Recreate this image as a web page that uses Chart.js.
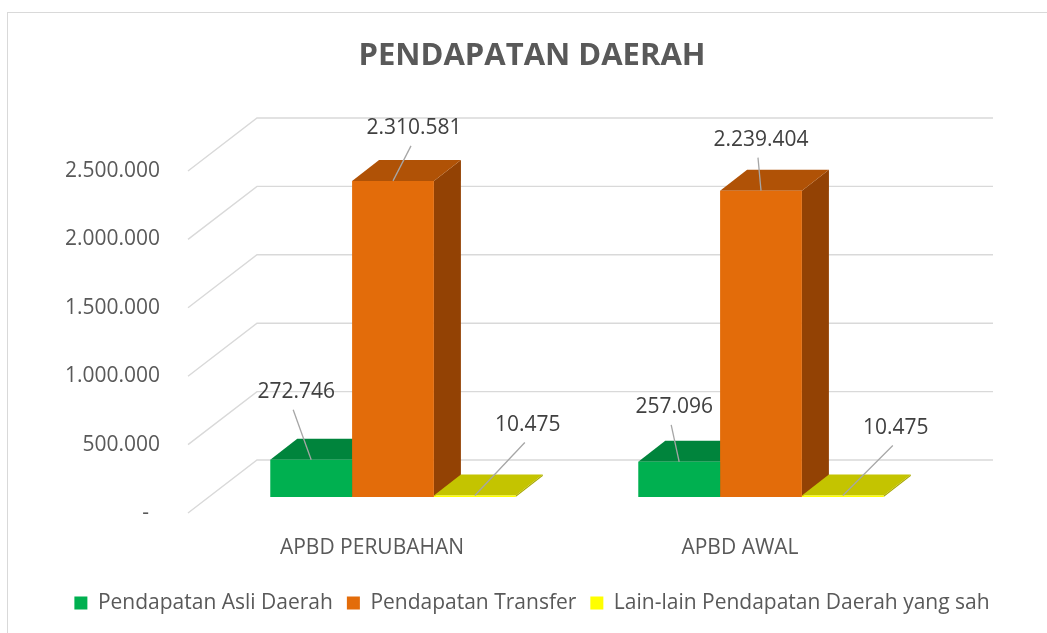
<!DOCTYPE html>
<html><head><meta charset="utf-8">
<script src="https://cdn.jsdelivr.net/npm/chart.js@4.4.0/dist/chart.umd.min.js"></script>
<style>
html,body{margin:0;padding:0;background:#fff;overflow:hidden}
#wrap{position:relative;width:1047px;height:633px;overflow:hidden}
#frame{position:absolute;left:7px;top:12px;width:1100px;height:700px;border:1.5px solid #d9d9d9;box-sizing:border-box}
canvas{position:absolute;left:0;top:0}
</style></head><body>
<div id="wrap"><div id="frame"></div><canvas id="c" width="1047" height="633"></canvas></div>
<script>
const categories = ['APBD PERUBAHAN', 'APBD AWAL'];
const seriesNames = ['Pendapatan Asli Daerah', 'Pendapatan Transfer', 'Lain-lain Pendapatan Daerah yang sah'];
const pendapatanAsliDaerah = [272746, 257096];
const pendapatanTransfer = [2310581, 2239404];
const lainLainPendapatan = [10475, 10475];
const yTicks = [0, 500000, 1000000, 1500000, 2000000, 2500000];

// styles
const frontColors = ['#00B050', '#E36C0A', '#FFFF00'];
const topColors = ['#00843C', '#B05206', '#C4C400'];
const sideColors = ['#006B30', '#934204', '#A8A800'];
const FRONT = {dx: 21, dy: -16};
const DEPTH = {dx: 27, dy: -21};
const WALL = {dx: 69, dy: -53};
const labelOffsets = [[[-15, -68], [-5, -55]], [[21, -53], [0, -51]], [[53, -71], [53, -68]]];
const FONT = 'Open Sans';

function fmt(v) {
  if (v === 0) return '-  ';
  return String(v).replace(/\B(?=(\d{3})+(?!\d))/g, '.');
}
function poly(ctx, pts) {
  ctx.beginPath();
  ctx.moveTo(pts[0][0], pts[0][1]);
  for (let k = 1; k < pts.length; k++) ctx.lineTo(pts[k][0], pts[k][1]);
  ctx.closePath();
  ctx.fill();
}

const threeD = {
  id: 'threeD',
  beforeDatasetsDraw(chart) {
    const {ctx, chartArea: a, scales: {y}} = chart;
    ctx.save();
    ctx.strokeStyle = '#D9D9D9';
    ctx.lineWidth = 1.4;
    yTicks.forEach(v => {
      const py = y.getPixelForValue(v);
      ctx.beginPath();
      ctx.moveTo(a.left, py);
      ctx.lineTo(a.left + WALL.dx, py + WALL.dy);
      ctx.lineTo(a.right + WALL.dx, py + WALL.dy);
      ctx.stroke();
    });
    const n = chart.data.labels.length;
    for (let i = 0; i < n; i++) {
      for (let d = 0; d < chart.data.datasets.length; d++) {
        const el = chart.getDatasetMeta(d).data[i];
        const l = el.x - el.width / 2 + FRONT.dx, r = el.x + el.width / 2 + FRONT.dx;
        const t = el.y + FRONT.dy, b = el.base + FRONT.dy;
        ctx.fillStyle = sideColors[d];
        poly(ctx, [[r, t], [r + DEPTH.dx, t + DEPTH.dy], [r + DEPTH.dx, b + DEPTH.dy], [r, b]]);
        ctx.fillStyle = topColors[d];
        poly(ctx, [[l, t], [r, t], [r + DEPTH.dx, t + DEPTH.dy], [l + DEPTH.dx, t + DEPTH.dy]]);
      }
    }
    ctx.restore();
  },
  beforeDatasetDraw(chart) { chart.ctx.save(); chart.ctx.translate(FRONT.dx, FRONT.dy); },
  afterDatasetDraw(chart) { chart.ctx.restore(); },
  afterDatasetsDraw(chart) {
    const ctx = chart.ctx;
    ctx.save();
    ctx.font = '21px "' + FONT + '"';
    ctx.textAlign = 'center';
    ctx.textBaseline = 'middle';
    chart.data.datasets.forEach((ds, d) => {
      chart.getDatasetMeta(d).data.forEach((el, i) => {
        const ax = el.x + FRONT.dx, ay = el.y + FRONT.dy;
        const lx = ax + labelOffsets[d][i][0], ly = ay + labelOffsets[d][i][1];
        ctx.strokeStyle = '#A6A6A6';
        ctx.lineWidth = 1.3;
        ctx.beginPath();
        ctx.moveTo(lx - 3, ly + 18);
        ctx.lineTo(ax, ay);
        ctx.stroke();
        ctx.fillStyle = '#404040';
        ctx.fillText(fmt(ds.data[i]), lx, ly);
      });
    });
    ctx.restore();
  }
};

new Chart(document.getElementById('c'), {
  type: 'bar',
  data: {
    labels: categories,
    datasets: [
      {label: seriesNames[0], data: pendapatanAsliDaerah, backgroundColor: frontColors[0]},
      {label: seriesNames[1], data: pendapatanTransfer, backgroundColor: frontColors[1]},
      {label: seriesNames[2], data: lainLainPendapatan, backgroundColor: frontColors[2]}
    ]
  },
  options: {
    responsive: false,
    animation: false,
    devicePixelRatio: 1,
    layout: {padding: {left: 17, right: 0, top: 0, bottom: 9.5}},
    datasets: {bar: {categoryPercentage: 0.667, barPercentage: 1.0, borderWidth: 0}},
    scales: {
      x: {
        grid: {display: false, drawTicks: false},
        border: {display: false},
        ticks: {color: '#595959', font: {family: FONT, size: 21}, padding: 22},
        afterFit(s) { s.height = 65.5; }
      },
      y: {
        min: 0, max: 2500000,
        afterFit(s) { s.width = 171; },
        afterBuildTicks(s) { s.ticks = yTicks.map(v => ({value: v})); },
        grid: {display: false, drawTicks: false},
        border: {display: false},
        ticks: {color: '#595959', font: {family: FONT, size: 21}, padding: 28, callback: v => fmt(v)}
      },
      yRight: {
        type: 'linear', position: 'right', min: 0, max: 2500000,
        afterFit(s) { s.width = 123; },
        grid: {display: false, drawTicks: false},
        border: {display: false},
        ticks: {display: false}
      }
    },
    plugins: {
      title: {display: true, text: 'PENDAPATAN DAERAH', color: '#595959',
        font: {family: FONT, size: 31, weight: 'bold'}, padding: {top: 38, bottom: 95.8}},
      legend: {position: 'bottom',
        labels: {boxWidth: 13, boxHeight: 13, color: '#595959', font: {family: FONT, size: 21}, padding: 14}},
      tooltip: {enabled: false}
    }
  },
  plugins: [threeD]
});
</script>
</body></html>
